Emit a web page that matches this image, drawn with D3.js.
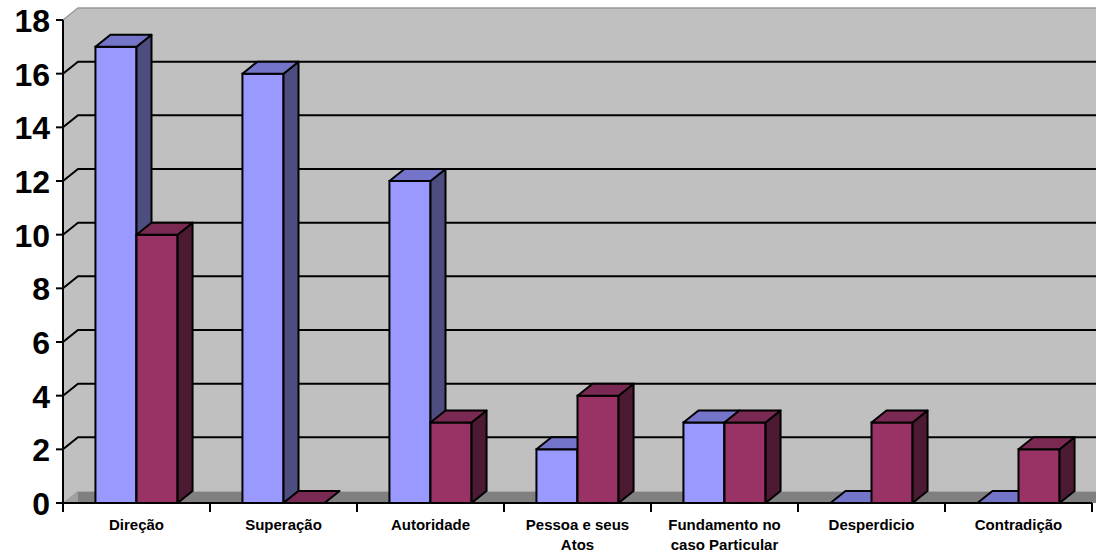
<!DOCTYPE html>
<html>
<head>
<meta charset="utf-8">
<script src="https://cdn.jsdelivr.net/npm/d3@7"></script>
<style>
  body { margin: 0; background: #fff; }
  svg { display: block; font-family: "Liberation Sans", Arial, sans-serif; }
</style>
</head>
<body>
<svg id="chart" width="1096" height="556"></svg>
<script>
// categories and the two series
const categories = ["Direção", "Superação", "Autoridade", "Pessoa e seus Atos",
  "Fundamento no caso Particular", "Desperdicio", "Contradição"];
const catLines = [["Direção"], ["Superação"], ["Autoridade"], ["Pessoa e seus", "Atos"],
  ["Fundamento no", "caso Particular"], ["Desperdicio"], ["Contradição"]];
const seriesA = [17, 16, 12, 2, 3, 0, 0];
const seriesB = [10, 0, 3, 4, 3, 3, 2];
const yTicks = [0, 2, 4, 6, 8, 10, 12, 14, 16, 18];

const colors = {
  a: {front: "#9999FF", top: "#7474C9", side: "#4D4D80"},
  b: {front: "#993366", top: "#7A2952", side: "#4D1A33"}
};

// depth offset for the fake 3d
const dx = 15, dy = 12;
const left = 63, right = 1092;

const svg = d3.select("#chart");

const x = d3.scaleBand().domain(categories).range([left, right]).padding(0);
const inner = d3.scaleBand().domain(["a", "b"]).range([0, x.bandwidth()]).paddingInner(0).paddingOuter(0.79);
const y = d3.scaleLinear().domain([0, 18]).range([503, 20]);

const y0 = y(0), yMax = y(18);

// walls
svg.append("polygon")
  .attr("points", [[left, y0], [left, yMax], [left + dx, yMax - dy], [1096, yMax - dy], [1096, y0 - dy], [left + dx, y0 - dy]].join(" "))
  .attr("fill", "#C0C0C0");
svg.append("polyline")
  .attr("points", [[left, yMax], [left + dx, yMax - dy], [1096, yMax - dy]].join(" "))
  .attr("fill", "none").attr("stroke", "#999").attr("stroke-width", 1.5);

// floor
svg.append("polygon")
  .attr("points", [[left, y0], [left + dx, y0 - dy], [1096 + dx, y0 - dy], [right + dx, y0]].join(" "))
  .attr("fill", "#808080");
svg.append("polygon")
  .attr("points", [[left, y0], [left + dx, y0 - dy], [left + dx, y0]].join(" "))
  .attr("fill", "#A0A0A0");
svg.append("line")
  .attr("x1", left + dx).attr("x2", 1096).attr("y1", y0 - dy + 0.5).attr("y2", y0 - dy + 0.5)
  .attr("stroke", "#A8A8A8").attr("stroke-width", 1);

// gridlines
const grid = yTicks.filter(d => d > 0 && d < 18);
svg.append("g").selectAll("polyline").data(grid).join("polyline")
  .attr("points", d => [[left, y(d)], [left + dx, y(d) - dy], [1096, y(d) - dy]].join(" "))
  .attr("fill", "none").attr("stroke", "#000").attr("stroke-width", 2);

// bars
function drawBar(g, x0, w, v, c) {
  const yt = y(v);
  if (v > 0) {
    g.append("rect").attr("x", x0).attr("y", yt).attr("width", w).attr("height", y0 - yt)
      .attr("fill", c.front).attr("stroke", "#000").attr("stroke-width", 2);
    g.append("polygon")
      .attr("points", [[x0 + w, yt], [x0 + w + dx, yt - dy], [x0 + w + dx, y0 - dy], [x0 + w, y0]].join(" "))
      .attr("fill", c.side).attr("stroke", "#000").attr("stroke-width", 2).attr("stroke-linejoin", "round");
  }
  g.append("polygon")
    .attr("points", [[x0, yt], [x0 + dx, yt - dy], [x0 + w + dx, yt - dy], [x0 + w, yt]].join(" "))
    .attr("fill", c.top).attr("stroke", "#000").attr("stroke-width", 2).attr("stroke-linejoin", "round");
}

const bars = svg.append("g");
categories.forEach((cat, i) => {
  drawBar(bars, x(cat) + inner("a"), inner.bandwidth(), seriesA[i], colors.a);
  drawBar(bars, x(cat) + inner("b"), inner.bandwidth(), seriesB[i], colors.b);
});

// y axis
svg.append("line").attr("x1", left).attr("x2", left).attr("y1", yMax).attr("y2", y0)
  .attr("stroke", "#000").attr("stroke-width", 2);
const yg = svg.append("g");
yg.selectAll("line").data(yTicks).join("line")
  .attr("x1", left - 7).attr("x2", left).attr("y1", d => y(d)).attr("y2", d => y(d))
  .attr("stroke", "#000").attr("stroke-width", 2);
yg.selectAll("text").data(yTicks).join("text")
  .attr("x", 50).attr("y", d => y(d) + 12)
  .attr("text-anchor", "end").attr("font-size", 32).attr("font-weight", "bold")
  .text(d => d);

// x axis
svg.append("line").attr("x1", left).attr("x2", right).attr("y1", y0).attr("y2", y0)
  .attr("stroke", "#000").attr("stroke-width", 2);
const xg = svg.append("g");
const bounds = categories.map(c => x(c)).concat([right]);
xg.selectAll("line").data(bounds).join("line")
  .attr("x1", d => d).attr("x2", d => d).attr("y1", y0).attr("y2", y0 + 9)
  .attr("stroke", "#000").attr("stroke-width", 2);
categories.forEach((cat, i) => {
  const t = xg.append("text")
    .attr("x", x(cat) + x.bandwidth() / 2).attr("y", 530)
    .attr("text-anchor", "middle").attr("font-size", 15).attr("font-weight", "bold");
  catLines[i].forEach((ln, j) => {
    t.append("tspan").attr("x", x(cat) + x.bandwidth() / 2).attr("dy", j === 0 ? 0 : 20).text(ln);
  });
});
</script>
</body>
</html>
